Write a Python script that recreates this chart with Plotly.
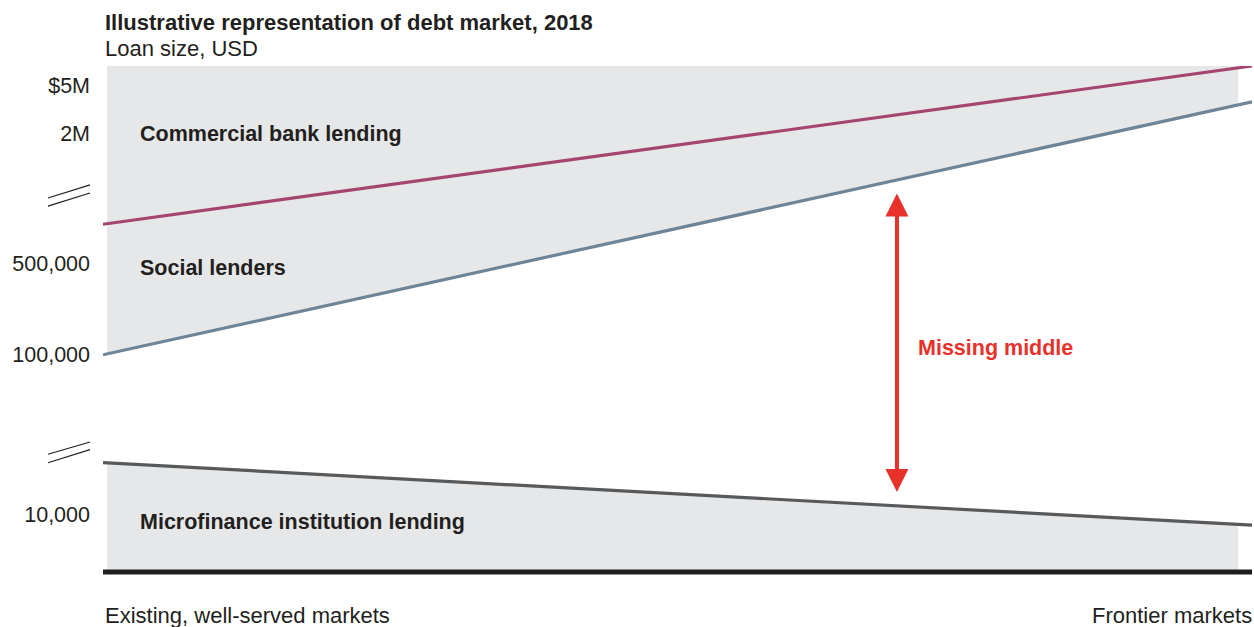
import plotly.graph_objects as go

# Illustrative loan-size scale (0 = floor, 100 = top of frame); x runs from
# existing, well-served markets (0) to frontier markets (100).
x_ends = [0, 100]
commercial_bank = [68.6, 100.0]
social_lenders = [42.7, 92.9]
microfinance = [21.3, 8.9]

tick_vals = [96.2, 86.7, 60.9, 42.7, 11.1]
tick_text = ["$5M", "2M", "500,000", "100,000", "10,000"]

gap_x = 69.1
gap_range = [15.2, 74.7]

FONT = "Liberation Sans, Arial, sans-serif"
GRAY_FILL = "#e6e7e8"
MAGENTA = "#a4446f"
SLATE = "#6e8597"
DARK = "#58595b"
RED = "#e8312a"
TEXT = "#231f20"

fig = go.Figure()

# White gap between social lenders and microfinance lenders, laid over the grey frame
fig.add_trace(go.Scatter(
    x=x_ends + x_ends[::-1],
    y=social_lenders + microfinance[::-1],
    fill="toself", fillcolor="white", mode="none",
    hoverinfo="skip", showlegend=False,
))

for vals, color in [(commercial_bank, MAGENTA), (social_lenders, SLATE), (microfinance, DARK)]:
    fig.add_trace(go.Scatter(
        x=x_ends, y=vals, mode="lines",
        line=dict(color=color, width=3.2),
        hoverinfo="skip", showlegend=False,
    ))

shapes = [
    # grey backdrop of the lending segments
    dict(type="rect", xref="x", yref="y", x0=0.35, x1=98.8, y0=0, y1=100,
         fillcolor=GRAY_FILL, line=dict(width=0), layer="below"),
    # baseline
    dict(type="line", xref="x", yref="y", x0=0, x1=100, y0=-0.4, y1=-0.4,
         line=dict(color="#1e1e1e", width=5)),
]

# axis-break marks
for (ya, yb) in [(73.8, 76.4), (72.2, 74.8), (22.96, 25.4), (21.29, 23.87)]:
    shapes.append(dict(type="line", xref="paper", yref="y",
                       x0=-0.0479, x1=-0.0113, y0=ya, y1=yb,
                       line=dict(color=TEXT, width=1.2)))

LABEL = dict(size=21.5, color=TEXT)
annotations = [
    dict(text="<b>Illustrative representation of debt market, 2018</b>",
         xref="paper", yref="paper", x=0.0, y=1.086, xanchor="left", yanchor="middle",
         showarrow=False, font=dict(size=22, color=TEXT)),
    dict(text="Loan size, USD",
         xref="paper", yref="paper", x=0.0, y=1.035, xanchor="left", yanchor="middle",
         showarrow=False, font=dict(size=22, color=TEXT)),
    dict(text="<b>Commercial bank lending</b>", xref="x", yref="y", x=3.05, y=86.5,
         xanchor="left", yanchor="middle", showarrow=False, font=LABEL),
    dict(text="<b>Social lenders</b>", xref="x", yref="y", x=3.05, y=59.9,
         xanchor="left", yanchor="middle", showarrow=False, font=LABEL),
    dict(text="<b>Microfinance institution lending</b>", xref="x", yref="y", x=3.05, y=9.5,
         xanchor="left", yanchor="middle", showarrow=False, font=LABEL),
    dict(text="<b>Missing middle</b>", xref="x", yref="y", x=70.76, y=44.05,
         xanchor="left", yanchor="middle", showarrow=False, font=dict(size=21.5, color=RED)),
    dict(text="Existing, well-served markets", xref="paper", yref="paper", x=0.0, y=-0.0744,
         xanchor="left", yanchor="middle", showarrow=False, font=dict(size=22, color=TEXT)),
    dict(text="Frontier markets", xref="paper", yref="paper", x=1.0017, y=-0.0744,
         xanchor="right", yanchor="middle", showarrow=False, font=dict(size=22, color=TEXT)),
    # double-headed arrow spanning the missing middle
    dict(text="", x=gap_x, y=gap_range[1], ax=gap_x, ay=gap_range[0],
         xref="x", yref="y", axref="x", ayref="y",
         showarrow=True, arrowhead=2, startarrowhead=2, arrowside="end+start",
         arrowwidth=4, arrowsize=1.15, startarrowsize=1.15, arrowcolor=RED, standoff=0, startstandoff=0),
]

fig.update_layout(
    width=1254, height=627,
    margin=dict(l=103, r=2, t=66, b=50),
    paper_bgcolor="white", plot_bgcolor="white",
    font=dict(family=FONT, color=TEXT, size=21.5),
    xaxis=dict(range=[0, 100], visible=False, fixedrange=True),
    yaxis=dict(range=[-1.389, 100], tickvals=tick_vals, ticktext=tick_text,
               showgrid=False, zeroline=False, showline=False, ticks="",
               ticklabelstandoff=12, tickfont=dict(size=21.5, color=TEXT), fixedrange=True),
    shapes=shapes, annotations=annotations,
    showlegend=False,
)

fig.write_html("out.html", config={"displayModeBar": False})
